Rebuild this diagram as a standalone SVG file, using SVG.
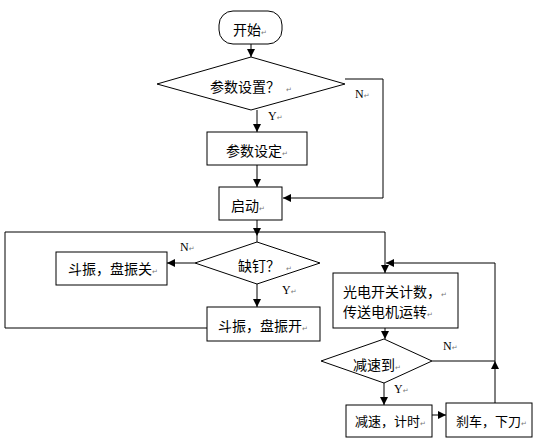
<svg xmlns="http://www.w3.org/2000/svg" width="540" height="441" viewBox="0 0 540 441">
<defs>
<marker id="ah" viewBox="0 0 10 10" refX="10" refY="5" markerWidth="8" markerHeight="8" markerUnits="userSpaceOnUse" orient="auto">
<path d="M0,0 L10,5 L0,10 z" fill="#000"/>
</marker>
<style>
.s{fill:#fff;stroke:#000;stroke-width:1}
.c{fill:none;stroke:#000;stroke-width:1}
.t{font-family:"Noto Sans CJK SC","DejaVu Sans",sans-serif;font-size:14px;fill:#000}
.u{font-size:13px}
.l{font-family:"Liberation Serif","Noto Sans CJK SC",serif;font-size:12px;fill:#000}
.m{font-family:"DejaVu Sans",sans-serif;font-size:7px;fill:#777}
</style>
</defs>
<rect width="540" height="441" fill="#fff"/>
<g id="connectors">
<path class="c" d="M251,44 V57" marker-end="url(#ah)"/>
<path class="c" d="M257,110 V132" marker-end="url(#ah)"/>
<path class="c" d="M345,79 H383 V198 H283" marker-end="url(#ah)"/>
<path class="c" d="M257,165 V187" marker-end="url(#ah)"/>
<path class="c" d="M257,220 V236" marker-end="url(#ah)"/>
<path class="c" d="M257,236 V242"/>
<path class="c" d="M207,328 H5 V232 H385 V273" marker-end="url(#ah)"/>
<path class="c" d="M195,263 H167" marker-end="url(#ah)"/>
<path class="c" d="M257,284 V307" marker-end="url(#ah)"/>
<path class="c" d="M385,328 V339" marker-end="url(#ah)"/>
<path class="c" d="M432,361 H495"/>
<path class="c" d="M495,403 V361" marker-end="url(#ah)"/>
<path class="c" d="M495,361 V263 H386" marker-end="url(#ah)"/>
<path class="c" d="M384,383 V405" marker-end="url(#ah)"/>
<path class="c" d="M432,415 H446" marker-end="url(#ah)"/>
<text class="l" x="355" y="98">N<tspan class="m">↵</tspan></text>
<text class="l" x="268" y="120">Y<tspan class="m">↵</tspan></text>
<text class="l" x="180" y="251">N<tspan class="m">↵</tspan></text>
<text class="l" x="282" y="294">Y<tspan class="m">↵</tspan></text>
<text class="l" x="443" y="350">N<tspan class="m">↵</tspan></text>
<text class="l" x="394" y="393">Y<tspan class="m">↵</tspan></text>
</g>
<g id="start">
<rect class="s" x="219" y="11" width="63" height="33" rx="14"/>
<text class="t" x="233" y="35">开始<tspan class="m">↵</tspan></text>
</g>
<g id="param_q">
<polygon class="s" points="157,84 251,57 345,84 251,110"/>
<text class="t" x="210" y="92">参数设置？<tspan class="m" dx="6">↵</tspan></text>
</g>
<g id="param_set">
<rect class="s" x="207" y="132" width="100" height="33"/>
<text class="t" x="226" y="156">参数设定<tspan class="m">↵</tspan></text>
</g>
<g id="launch">
<rect class="s" x="219" y="187" width="63" height="33"/>
<text class="t" x="231" y="211">启动<tspan class="m">↵</tspan></text>
</g>
<g id="missing_q">
<polygon class="s" points="195,263 257,242 320,263 257,284"/>
<text class="t" x="238" y="271">缺钉？<tspan class="m" dx="6">↵</tspan></text>
</g>
<g id="vib_off">
<rect class="s" x="56" y="252" width="111" height="33"/>
<text class="t" x="68" y="274">斗振，盘振关<tspan class="m">↵</tspan></text>
</g>
<g id="vib_on">
<rect class="s" x="207" y="307" width="113" height="34"/>
<text class="t" x="218" y="331">斗振，盘振开<tspan class="m">↵</tspan></text>
</g>
<g id="count">
<rect class="s" x="333" y="273" width="125" height="55"/>
<text class="t" x="343" y="297">光电开关计数，<tspan class="m">↵</tspan></text>
<text class="t" x="343" y="317">传送电机运转<tspan class="m">↵</tspan></text>
</g>
<g id="decel_q">
<polygon class="s" points="321,361 384,339 432,361 384,383"/>
<text class="t" x="353" y="370">减速到<tspan class="m">↵</tspan></text>
</g>
<g id="decel">
<rect class="s" x="346" y="405" width="86" height="32"/>
<text class="t u" x="355" y="426">减速，计时<tspan class="m">↵</tspan></text>
</g>
<g id="brake">
<rect class="s" x="446" y="403" width="86" height="34"/>
<text class="t u" x="456" y="426">刹车，下刀<tspan class="m">↵</tspan></text>
</g>
</svg>
